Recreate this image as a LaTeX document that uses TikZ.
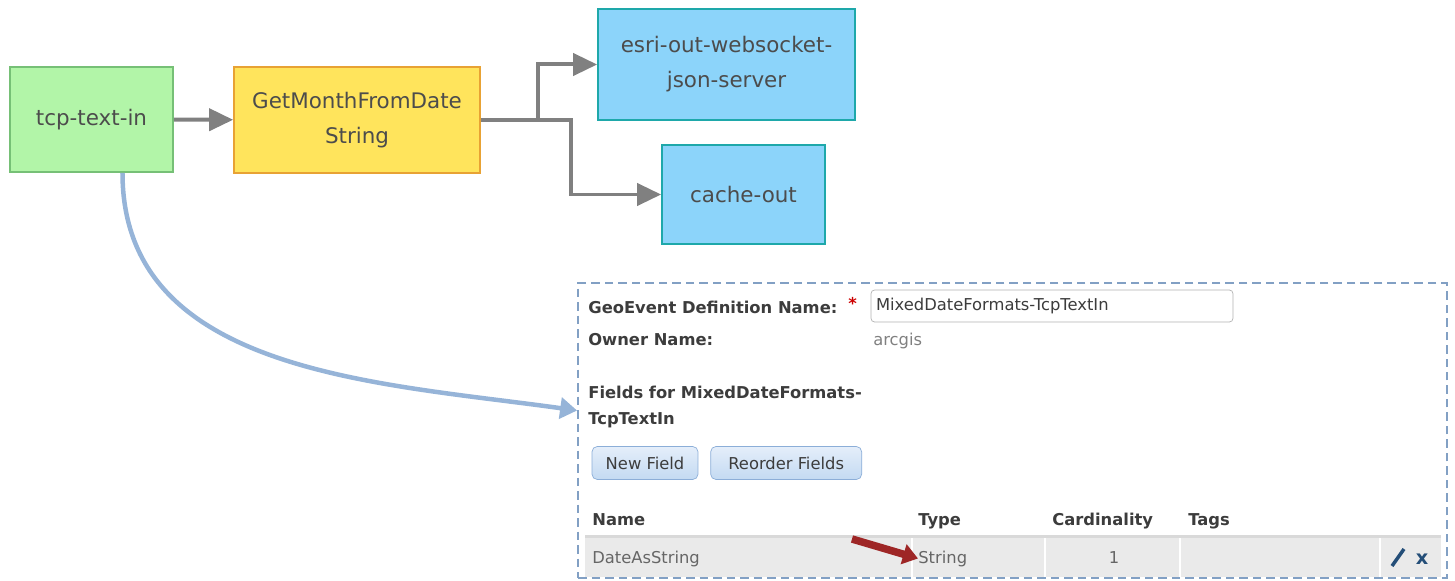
\documentclass[tikz,border=0pt]{standalone}
\usepackage{fontspec}
\setmainfont{DejaVu Sans}
\usetikzlibrary{arrows.meta,positioning,calc}
\definecolor{greenfill}{RGB}{178, 245, 168}
\definecolor{greenline}{RGB}{118, 192, 118}
\definecolor{yellowfill}{RGB}{255, 228, 92}
\definecolor{yellowline}{RGB}{232, 162, 52}
\definecolor{bluefill}{RGB}{140, 212, 250}
\definecolor{blueline}{RGB}{30, 168, 170}
\definecolor{flowgrey}{RGB}{128, 128, 128}
\definecolor{linkblue}{RGB}{150, 180, 216}
\definecolor{panelline}{RGB}{130, 160, 196}
\definecolor{btntop}{RGB}{228, 238, 250}
\definecolor{btnbottom}{RGB}{196, 218, 242}
\definecolor{btnline}{RGB}{140, 174, 216}
\definecolor{rowgrey}{RGB}{234, 234, 234}
\definecolor{darkred}{RGB}{158, 38, 38}
\definecolor{iconblue}{RGB}{36, 78, 120}
\definecolor{txtgrey}{RGB}{60, 60, 60}
\tikzset{
	auto,
	flowbox/.style={
		rectangle, line width=1pt, text=black!70, align=center, inner sep=0pt,
		font=\fontsize{12.2}{20}\selectfont
	},
	%
	flow/.style={
		-{Triangle[length=0.48cm,width=0.44cm]}, line width=0.08cm, draw=flowgrey
	},
	%
	link/.style={
		-{Triangle[length=0.34cm,width=0.42cm]}, line width=0.09cm, draw=linkblue
	},
	%
	panelbox/.style={
		rectangle, draw=panelline, line width=1.1pt, dash pattern=on 0.17cm off 0.1cm
	},
	%
	formtext/.style={
		anchor=base west, inner sep=0pt, text=txtgrey, font=\fontsize{9.3}{12}\selectfont
	},
	%
	inputbox/.style={
		rectangle, rounded corners=2pt, draw=black!30, fill=white, inner xsep=0.1cm,
		align=left, text=txtgrey, font=\fontsize{9.3}{12}\selectfont
	},
	%
	button/.style={
		rectangle, rounded corners=3pt, draw=btnline, top color=btntop, bottom color=btnbottom,
		minimum height=0.66cm, inner sep=0pt, text=txtgrey, font=\fontsize{9.3}{12}\selectfont
	}
}

\begin{document}
\begin{tikzpicture}[x=0.02cm, y=-0.02cm]
\useasboundingbox (0,0) rectangle (1455,581);
% flow
\node(tcp)[flowbox, draw=greenline, fill=greenfill, minimum width=3.26cm, minimum height=2.1cm] at (91.5,119.5) {tcp-text-in};
\node(getmonth)[flowbox, draw=yellowline, fill=yellowfill, minimum width=4.92cm, minimum height=2.12cm] at (357,120) {GetMonthFromDate\\String};
\node(esri)[flowbox, draw=blueline, fill=bluefill, minimum width=5.14cm, minimum height=2.22cm] at (726.5,64.5) {esri-out-websocket-\\json-server};
\node(cache)[flowbox, draw=blueline, fill=bluefill, minimum width=3.26cm, minimum height=1.98cm] at (743.5,194.5) {cache-out};
\draw[flow] (tcp) -- (getmonth);
\draw[flow] (getmonth.east) -- ++(57,0) |- (esri.west);
\draw[flow] (getmonth.east) -- ++(90,0) |- (cache.west);
% definition panel
\node(panel)[panelbox, minimum width=17.38cm, minimum height=5.9cm] at (1012.5,430.5) {};
\draw[link] ([xshift=0.62cm]tcp.south) to[out=-90, in=172] ([yshift=0.4cm]panel.west);
\node(defname)[formtext] at (588,313) {\textbf{GeoEvent Definition Name:}};
\node(star)[formtext, text=red!80!black] at (848,309) {\textbf{*}};
\node(namebox)[inputbox, minimum height=0.64cm, text width=7.04cm] at (1052,306) {MixedDateFormats-TcpTextIn};
\node(owner)[formtext] at (588,345) {\textbf{Owner Name:}};
\node(ownerval)[formtext, text=black!50] at (873,345) {arcgis};
\node(fields)[formtext] at (588,398) {\textbf{Fields for MixedDateFormats-}};
\node(fields2)[formtext] at (588,424) {\textbf{TcpTextIn}};
\node(newfield)[button, minimum width=2.12cm] at (645,463) {New Field};
\node(reorder)[button, right=0.24cm of newfield, minimum width=3.02cm] {Reorder Fields};
% table
\fill[rowgrey] (585,538) rectangle (1441,577);
\draw[black!15, line width=0.06cm] (585,536) -- (1441,536);
\foreach \x in {912,1045,1180,1380} {
	\draw[white, line width=0.05cm] (\x,538) -- (\x,577);
}
\node(hname)[formtext] at (592,525) {\textbf{Name}};
\node(htype)[formtext] at (918,525) {\textbf{Type}};
\node(hcard)[formtext] at (1052,525) {\textbf{Cardinality}};
\node(htags)[formtext] at (1188,525) {\textbf{Tags}};
\node(rowname)[formtext, text=black!60] at (592,563) {DateAsString};
\node(rowtype)[formtext, text=black!60] at (918,563) {String};
\node(rowcard)[formtext, anchor=base, text=black!60] at (1114,563) {1};
\draw[iconblue, line width=0.07cm] (1392,566) -- (1404,549);
\node(remove)[formtext, anchor=base, text=iconblue, font=\fontsize{11}{12}\selectfont] at (1422,564) {\textbf{x}};
\coordinate(redtail) at (852,539);
\draw[darkred, line width=0.15cm, -{Triangle[length=0.3cm,width=0.4cm]}] (redtail) -- (rowtype.west);
\end{tikzpicture}
\end{document}
